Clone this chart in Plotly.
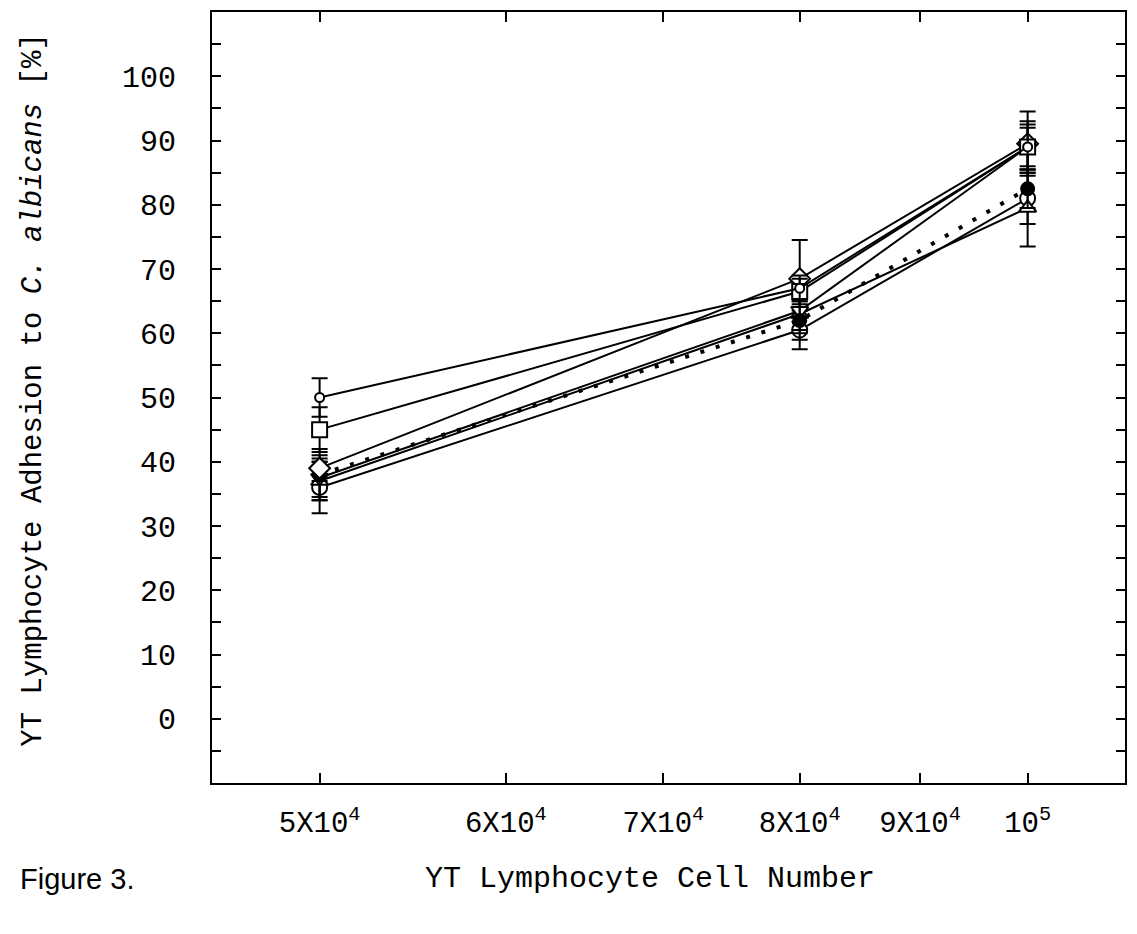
import plotly.graph_objects as go
import math

# Data
cell_numbers = [5e4, 8e4, 1e5]
tick_vals = [5e4, 6e4, 7e4, 8e4, 9e4, 1e5]
tick_text = ["5X10<sup>4</sup>", "6X10<sup>4</sup>", "7X10<sup>4</sup>",
             "8X10<sup>4</sup>", "9X10<sup>4</sup>", "10<sup>5</sup>"]
y_ticks = [0, 10, 20, 30, 40, 50, 60, 70, 80, 90, 100]

s_small_circle = [50, 67, 89]
e_small_circle = [3, 2, 3]
s_square = [45, 66.5, 89]
e_square = [3.5, 2, 4]
s_diamond = [39, 68.5, 89.5]
e_diamond = [2, 6, 5]
s_filled = [38, 62, 82.5]
e_filled = [4, 3, 3]
s_open_circle = [36, 60.5, 81]
e_open_circle = [4, 3, 4]
s_triangle = [37, 63, 79.5]
e_triangle = [3, 3, 6]
s_tri_down = [37.5, 63.5, 89]
e_tri_down = [3, 3, 3.5]

MONO = "Liberation Mono, Courier New, monospace"

fig = go.Figure()

def add(y, err, symbol, size, fill="white", dash="solid", lw=2):
    fig.add_trace(go.Scatter(
        x=cell_numbers, y=y, mode="lines+markers",
        line=dict(color="black", width=lw, dash=dash),
        marker=dict(symbol=symbol, size=size, color=fill,
                    line=dict(color="black", width=2)),
        error_y=dict(type="data", array=err, visible=True,
                     color="black", thickness=2, width=8),
        showlegend=False,
    ))

add(s_open_circle, e_open_circle, "circle", 15)
add(s_triangle, e_triangle, "triangle-up", 15)
add(s_tri_down, e_tri_down, "triangle-down", 15)
add(s_filled, e_filled, "circle", 13, fill="black", dash="4px,12px", lw=4)
add(s_diamond, e_diamond, "diamond", 16)
add(s_square, e_square, "square", 15)
add(s_small_circle, e_small_circle, "circle", 9)

fig.update_layout(
    width=1137, height=934,
    margin=dict(l=212, r=12, t=10, b=151),
    paper_bgcolor="white", plot_bgcolor="white",
    font=dict(family=MONO, color="black"),
    xaxis=dict(
        type="log",
        range=[math.log10(4.5e4), math.log10(1.1e5)],
        tickvals=tick_vals, ticktext=tick_text,
        ticks="inside", ticklen=10, tickwidth=2, tickcolor="black",
        showline=True, linecolor="black", linewidth=2, mirror="allticks",
        showgrid=False, zeroline=False,
        tickfont=dict(family=MONO, size=29),
        ticklabelstandoff=12,
    ),
    yaxis=dict(
        range=[-10, 110],
        tickvals=y_ticks,
        ticks="inside", ticklen=9, tickwidth=2, tickcolor="black",
        minor=dict(dtick=5, ticks="inside", ticklen=9, tickwidth=2, tickcolor="black"),
        showline=True, linecolor="black", linewidth=2, mirror="allticks",
        showgrid=False, zeroline=False,
        tickfont=dict(family=MONO, size=30),
        ticklabelstandoff=28,
    ),
    annotations=[
        dict(text="YT Lymphocyte Adhesion to <i>C. albicans</i> [%]",
             xref="paper", yref="paper", x=-0.195, y=0.51, textangle=-90,
             showarrow=False, font=dict(family=MONO, size=29),
             xanchor="center", yanchor="middle"),
        dict(text="YT Lymphocyte Cell Number",
             xref="paper", yref="paper", x=0.48, y=-0.125,
             showarrow=False, font=dict(family=MONO, size=30),
             xanchor="center", yanchor="middle"),
        dict(text="Figure 3.",
             xref="paper", yref="paper", x=-0.212, y=-0.125,
             showarrow=False, font=dict(family="Liberation Sans, Arial", size=29),
             xanchor="left", yanchor="middle"),
    ],
)

fig.write_html("out.html")
